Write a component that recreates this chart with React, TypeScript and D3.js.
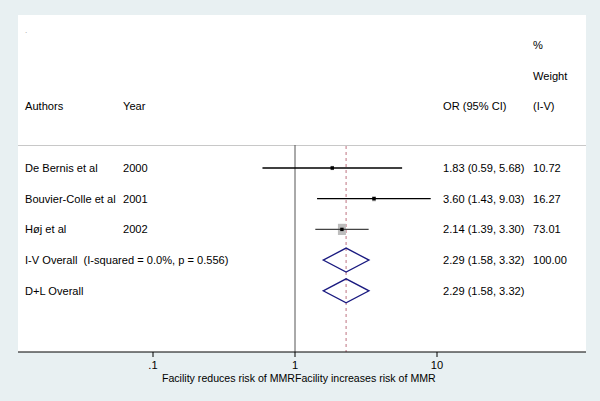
import React from "react";
import * as d3 from "d3";

const authors = ["De Bernis et al", "Bouvier-Colle et al", "Høj et al"];
const years = ["2000", "2001", "2002"];
const orValues = [1.83, 3.6, 2.14];
const ciLow = [0.59, 1.43, 1.39];
const ciHigh = [5.68, 9.03, 3.3];
const weights = [10.72, 16.27, 73.01];
const orLabels = ["1.83 (0.59, 5.68)", "3.60 (1.43, 9.03)", "2.14 (1.39, 3.30)"];
const weightLabels = ["10.72", "16.27", "73.01"];

const overallLabels = ["I-V Overall  (I-squared = 0.0%, p = 0.556)", "D+L Overall"];
const overallOR = [2.29, 2.29];
const overallLow = [1.58, 1.58];
const overallHigh = [3.32, 3.32];
const overallORLabels = ["2.29 (1.58, 3.32)", "2.29 (1.58, 3.32)"];
const overallWeightLabels = ["100.00", ""];

const xTicks = [0.1, 1, 10];
const xTickLabels = [".1", "1", "10"];
const leftTitle = "Facility reduces risk of MMR";
const rightTitle = "Facility increases risk of MMR";

const W = 600;
const H = 401;
const font = "Liberation Sans, Arial, sans-serif";

export default function App() {
  const x = d3.scaleLog().domain([0.1, 10]).range([153, 437]);
  const rowY = d3.scaleLinear().domain([0, 1]).range([168, 198.7]);
  const headerY = d3.scaleLinear().domain([0, 1]).range([45, 75.7]);
  const sqSize = d3.scaleSqrt().domain([0, 73.01]).range([0, 8]);
  const axisY = 352;
  const panel = { x0: 18, x1: 586, y0: 15 };
  const txt = { fontFamily: font, fontSize: 11.1, fill: "#000" } as const;
  const colAuthor = 25, colYear = 123, colOR = 443, colW = 533;
  const summaryX = x(overallOR[0]);

  return (
    <svg width={W} height={H} style={{ position: "absolute", left: 0, top: 0 }}>
      <rect x={0} y={0} width={W} height={H} fill="#e8f0f2" />
      <rect x={panel.x0} y={panel.y0} width={panel.x1 - panel.x0} height={axisY - panel.y0} fill="#fff" />
      <text x={colAuthor} y={33} style={{ ...txt, fontSize: 8, fill: "#999" }}>.</text>

      {/* headers */}
      <text x={colW} y={headerY(0) + 4} style={txt}>%</text>
      <text x={colW} y={headerY(1) + 4} style={txt}>Weight</text>
      <text x={colAuthor} y={headerY(2) + 4} style={txt}>Authors</text>
      <text x={colYear} y={headerY(2) + 4} style={txt}>Year</text>
      <text x={colOR} y={headerY(2) + 4} style={txt}>OR (95% CI)</text>
      <text x={colW} y={headerY(2) + 4} style={txt}>(I-V)</text>

      <line x1={panel.x0} x2={panel.x1} y1={145.5} y2={145.5} stroke="#c8c8c8" strokeWidth={1} />

      {/* null line */}
      <line x1={x(1)} x2={x(1)} y1={145} y2={axisY} stroke="#555" strokeWidth={1} />
      {/* overall dashed line */}
      <line x1={summaryX} x2={summaryX} y1={146} y2={axisY} stroke="#c98a96" strokeWidth={1.2} strokeDasharray="3,3" />

      {authors.map((a, i) => {
        const y = rowY(i);
        const s = sqSize(weights[i]);
        return (
          <g key={a}>
            <text x={colAuthor} y={y + 4} style={txt}>{a}</text>
            <text x={colYear} y={y + 4} style={txt}>{years[i]}</text>
            <text x={colOR} y={y + 4} style={txt}>{orLabels[i]}</text>
            <text x={colW} y={y + 4} style={txt}>{weightLabels[i]}</text>
            <rect x={x(orValues[i]) - s / 2} y={y - s * 0.7} width={s} height={s * 1.4} fill="#bdbdbd" />
            <line x1={x(ciLow[i])} x2={x(ciHigh[i])} y1={y} y2={y} stroke={i === 2 ? "#444" : "#000"} strokeWidth={1.3} />
            <rect x={x(orValues[i]) - 1.7} y={y - 1.7} width={3.4} height={3.4} fill="#000" />
          </g>
        );
      })}

      {overallLabels.map((l, j) => {
        const y = rowY(3 + j);
        const c = x(overallOR[j]);
        const lo = x(overallLow[j]);
        const hi = x(overallHigh[j]);
        const pts = [[lo, y], [c, y - 12], [hi, y], [c, y + 12]].map((p) => p.join(",")).join(" ");
        return (
          <g key={l}>
            <text x={colAuthor} y={y + 4} style={{ ...txt, whiteSpace: "pre" }}>{l}</text>
            <text x={colOR} y={y + 4} style={txt}>{overallORLabels[j]}</text>
            <text x={colW} y={y + 4} style={txt}>{overallWeightLabels[j]}</text>
            <polygon points={pts} fill="none" stroke="#1a1a80" strokeWidth={1.3} />
          </g>
        );
      })}

      {/* axis */}
      <line x1={panel.x0} x2={panel.x1} y1={axisY} y2={axisY} stroke="#000" strokeWidth={1} />
      {xTicks.map((t, i) => (
        <g key={t}>
          <line x1={x(t)} x2={x(t)} y1={axisY} y2={axisY + 5} stroke="#000" strokeWidth={1} />
          <text x={x(t)} y={369} textAnchor="middle" style={txt}>{xTickLabels[i]}</text>
        </g>
      ))}
      <text x={x(1)} y={381.5} textAnchor="end" style={{ ...txt, fontSize: 10.6 }}>{leftTitle}</text>
      <text x={x(1)} y={381.5} textAnchor="start" style={{ ...txt, fontSize: 10.6 }}>{rightTitle}</text>
    </svg>
  );
}
